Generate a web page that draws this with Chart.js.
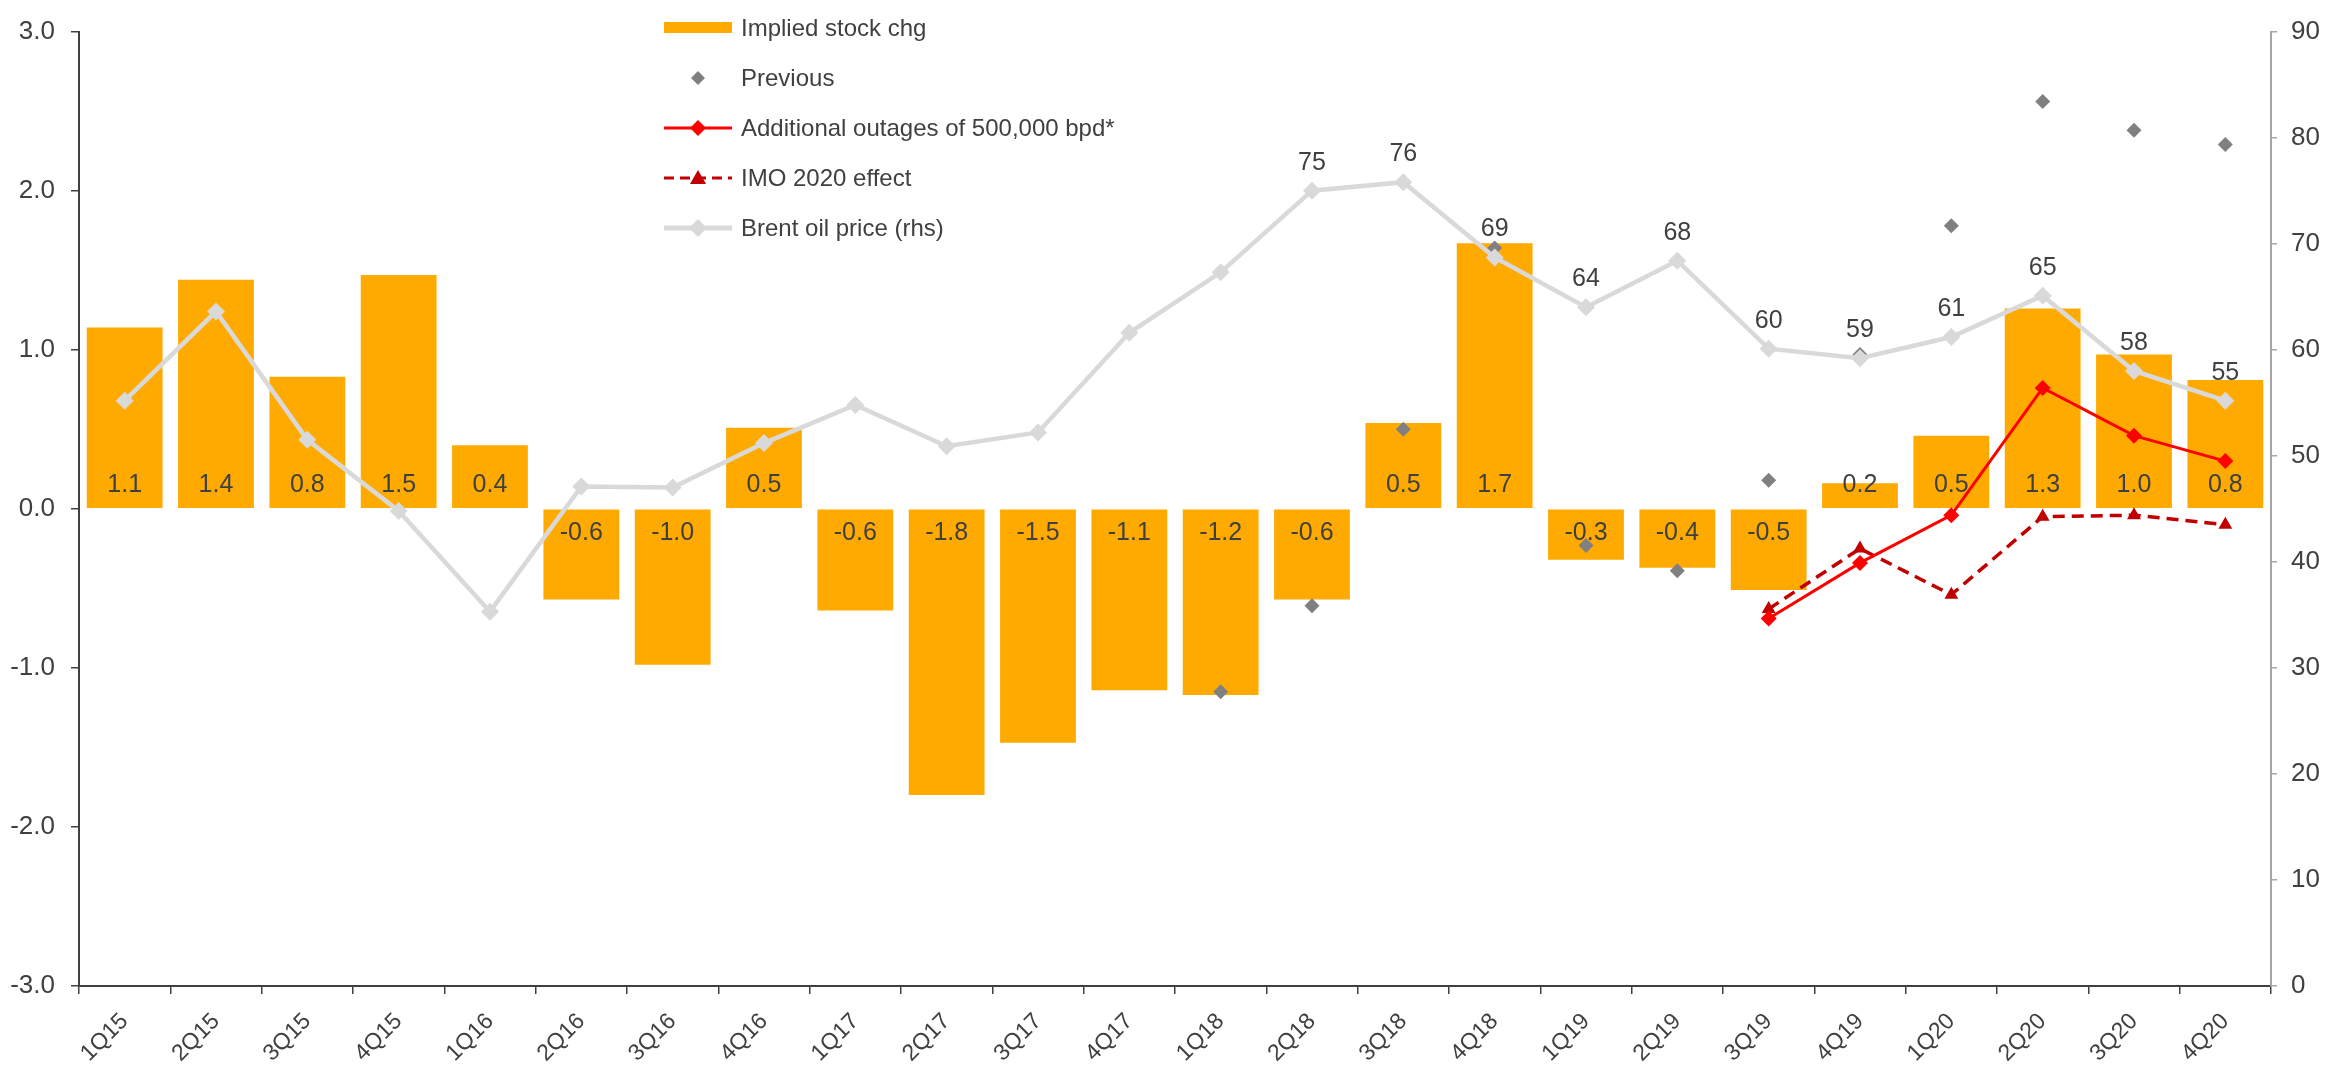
<!DOCTYPE html>
<html>
<head>
<meta charset="utf-8">
<script src="https://cdn.jsdelivr.net/npm/chart.js@4"></script>
<style>
  body { margin: 0; background: #fff; }
  #wrap { position: relative; width: 2344px; height: 1067px; }
  #legend { position: absolute; left: 664px; top: 3px; font: 24px "Liberation Sans", Arial, sans-serif; color: #404040; }
  .row { display: flex; align-items: center; height: 50px; }
  .row svg { width: 68px; height: 24px; margin-right: 9px; }
</style>
</head>
<body>
<div id="wrap">
  <canvas id="chart"></canvas>
  <div id="legend">
    <div class="row"><svg viewBox="0 0 68 24"><rect x="0" y="6" width="68" height="11" fill="#FFAA00"/></svg>Implied stock chg</div>
    <div class="row"><svg viewBox="0 0 68 24"><polygon points="34,5 41,12 34,19 27,12" fill="#808080"/></svg>Previous</div>
    <div class="row"><svg viewBox="0 0 68 24"><line x1="0" y1="12" x2="68" y2="12" stroke="#FF0000" stroke-width="3"/><polygon points="34,4 42,12 34,20 26,12" fill="#FF0000"/></svg>Additional outages of 500,000 bpd*</div>
    <div class="row"><svg viewBox="0 0 68 24"><line x1="0" y1="12" x2="68" y2="12" stroke="#C00000" stroke-width="3" stroke-dasharray="10,6"/><polygon points="34,4 42,18 26,18" fill="#C00000"/></svg>IMO 2020 effect</div>
    <div class="row"><svg viewBox="0 0 68 24"><line x1="0" y1="12" x2="68" y2="12" stroke="#D9D9D9" stroke-width="5"/><polygon points="34,3 43,12 34,21 25,12" fill="#D9D9D9"/></svg>Brent oil price (rhs)</div>
  </div>
</div>
<script>
const quarters = ['1Q15','2Q15','3Q15','4Q15','1Q16','2Q16','3Q16','4Q16','1Q17','2Q17','3Q17','4Q17',
                  '1Q18','2Q18','3Q18','4Q18','1Q19','2Q19','3Q19','4Q19','1Q20','2Q20','3Q20','4Q20'];

const stockChg = [1.14, 1.44, 0.83, 1.47, 0.40, -0.57, -0.98, 0.51, -0.64, -1.80, -1.47, -1.14,
                  -1.17, -0.57, 0.54, 1.67, -0.32, -0.37, -0.51, 0.16, 0.46, 1.26, 0.97, 0.81];

const previous = [null, null, null, null, null, null, null, null, null, null, null, null,
                  -1.15, -0.61, 0.50, 1.64, -0.23, -0.39, 0.18, 0.97, 1.78, 2.56, 2.38, 2.29];

const outages = [null, null, null, null, null, null, null, null, null, null, null, null,
                 null, null, null, null, null, null, -0.69, -0.34, -0.04, 0.76, 0.46, 0.30];

const imoEffect = [null, null, null, null, null, null, null, null, null, null, null, null,
                   null, null, null, null, null, null, -0.63, -0.25, -0.54, -0.05, -0.04, -0.10];

const brent = [55.2, 63.6, 51.5, 44.8, 35.3, 47.1, 47.0, 51.2, 54.8, 50.9, 52.2, 61.6,
               67.3, 75.0, 75.8, 68.7, 64.0, 68.4, 60.1, 59.2, 61.2, 65.1, 58.0, 55.2];

// brent labels only shown from this quarter on
const brentLabelFrom = '2Q18';

const FONT = '"Liberation Sans", Arial, sans-serif';
const TEXT = '#404040';

const labelPlugin = {
  id: 'valueLabels',
  afterDatasetDraw(chart, args) {
    const ctx = chart.ctx;
    ctx.save();
    ctx.font = '25px ' + FONT;
    ctx.fillStyle = TEXT;
    ctx.textAlign = 'center';
    ctx.textBaseline = 'middle';
    if (args.index === 0) {
      const y0 = chart.scales.y.getPixelForValue(0);
      args.meta.data.forEach((bar, i) => {
        const v = stockChg[i];
        ctx.fillText(v.toFixed(1), bar.x, v >= 0 ? y0 - 24 : y0 + 24);
      });
    }
    if (args.index === 4) {
      const start = quarters.indexOf(brentLabelFrom);
      args.meta.data.forEach((pt, i) => {
        if (i < start) return;
        ctx.fillText(Math.round(brent[i]), pt.x, pt.y - 28);
      });
    }
    ctx.restore();
  }
};

new Chart(document.getElementById('chart'), {
  type: 'bar',
  data: {
    labels: quarters,
    datasets: [
      {
        label: 'Implied stock chg',
        data: stockChg,
        backgroundColor: '#FFAA00',
        categoryPercentage: 0.83,
        barPercentage: 1,
        yAxisID: 'y',
        order: 5
      },
      {
        type: 'line',
        label: 'Previous',
        data: previous,
        showLine: false,
        pointStyle: 'rectRot',
        pointRadius: 7.5,
        backgroundColor: '#808080',
        borderColor: '#808080',
        borderWidth: 0,
        yAxisID: 'y',
        order: 4
      },
      {
        type: 'line',
        label: 'Additional outages of 500,000 bpd*',
        data: outages,
        borderColor: '#FF0000',
        backgroundColor: '#FF0000',
        borderWidth: 3,
        pointStyle: 'rectRot',
        pointRadius: 8,
        pointBorderWidth: 0,
        yAxisID: 'y',
        order: 2
      },
      {
        type: 'line',
        label: 'IMO 2020 effect',
        data: imoEffect,
        borderColor: '#C00000',
        backgroundColor: '#C00000',
        borderWidth: 3.5,
        borderDash: [12, 7],
        pointStyle: 'triangle',
        pointRadius: 8,
        pointBorderWidth: 0,
        yAxisID: 'y',
        order: 3
      },
      {
        type: 'line',
        label: 'Brent oil price (rhs)',
        data: brent,
        borderColor: '#D9D9D9',
        backgroundColor: '#D9D9D9',
        borderWidth: 4.5,
        pointStyle: 'rectRot',
        pointRadius: 9,
        pointBorderWidth: 0,
        yAxisID: 'y1',
        order: 1
      }
    ]
  },
  options: {
    responsive: true,
    maintainAspectRatio: false,
    animation: false,
    layout: { padding: { top: 19, left: 0, right: 0, bottom: 0 } },
    plugins: {
      legend: { display: false },
      tooltip: { enabled: false }
    },
    scales: {
      x: {
        grid: { drawOnChartArea: false, tickLength: 8, color: '#404040', lineWidth: 1.5 },
        border: { display: true, color: '#404040', width: 2 },
        ticks: {
          color: TEXT,
          font: { family: FONT, size: 23 },
          minRotation: 45,
          maxRotation: 45,
          autoSkip: false,
          padding: 14
        },
        afterFit: (scale) => { scale.height = 81; }
      },
      y: {
        position: 'left',
        min: -3,
        max: 3,
        grid: { drawOnChartArea: false, tickLength: 8, color: '#404040', lineWidth: 1.5 },
        border: { display: true, color: '#404040', width: 2 },
        ticks: {
          stepSize: 1,
          color: TEXT,
          font: { family: FONT, size: 26 },
          padding: 16,
          callback: (v) => v.toFixed(1)
        },
        afterFit: (scale) => { scale.width = 79; }
      },
      y1: {
        position: 'right',
        min: 0,
        max: 90,
        grid: { drawOnChartArea: false, tickLength: 6, color: '#A6A6A6', lineWidth: 1.5 },
        border: { display: true, color: '#A6A6A6', width: 2 },
        ticks: {
          stepSize: 10,
          color: TEXT,
          font: { family: FONT, size: 26 },
          padding: 14
        },
        afterFit: (scale) => { scale.width = 73; }
      }
    }
  },
  plugins: [labelPlugin]
});
</script>
</body>
</html>
